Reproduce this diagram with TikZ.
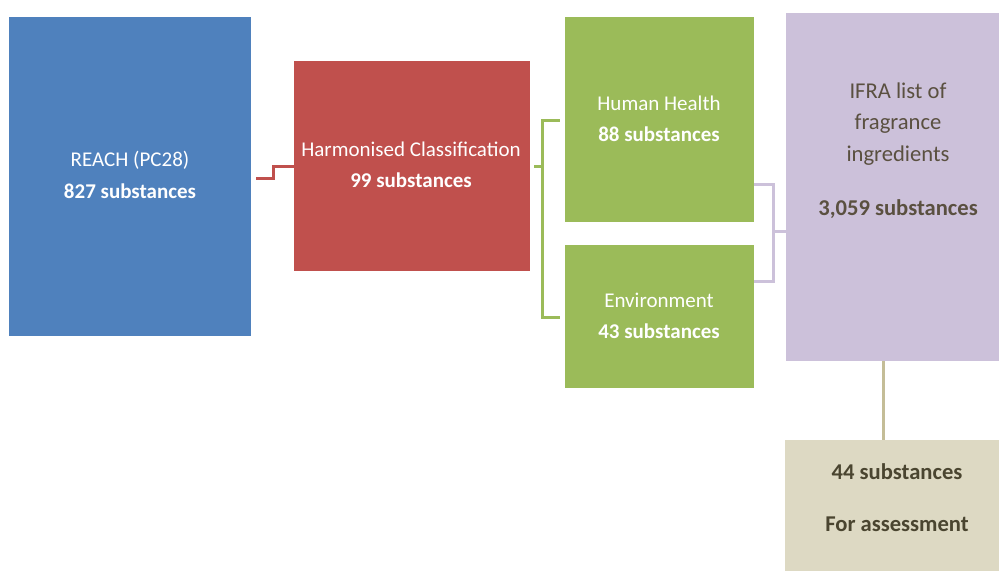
\documentclass[tikz,border=0pt]{standalone}
\usepackage{fontspec}
\setmainfont{Carlito}
\definecolor{cblue}{HTML}{4F81BD}
\definecolor{cred}{HTML}{C0504D}
\definecolor{cgreen}{HTML}{9BBB59}
\definecolor{cpurple}{HTML}{CCC1DA}
\definecolor{ctan}{HTML}{DDD9C3}
\definecolor{ctanline}{HTML}{C4BD97}
\definecolor{ptext}{HTML}{5A5040}
\definecolor{ttext}{HTML}{4A4530}
\begin{document}
\begin{tikzpicture}[x=1pt,y=-1pt,
  box/.style={draw=none,inner sep=0pt},
  lbl/.style={inner sep=0pt,font=\fontsize{21}{24}\selectfont,anchor=center},
  blbl/.style={lbl,font=\fontsize{21}{24}\selectfont\bfseries},
  llbl/.style={inner sep=0pt,font=\fontsize{22.6}{26}\selectfont,anchor=center},
  lblbl/.style={llbl,font=\fontsize{22.6}{26}\selectfont\bfseries},
  conn/.style={line width=3pt}]
\useasboundingbox (0,0) rectangle (999,571);
% boxes
\fill[cblue] (9,17) rectangle (251,336);
\node[box,minimum width=242pt,minimum height=319pt] (reach) at (130,176.5) {};
\fill[cred] (294,61) rectangle (530,271);
\node[box,minimum width=236pt,minimum height=210pt] (harm) at (412,166) {};
\fill[cgreen] (565,17) rectangle (754,222);
\node[box,minimum width=189pt,minimum height=205pt] (hh) at (659.5,119.5) {};
\fill[cgreen] (565,245) rectangle (754,388);
\node[box,minimum width=189pt,minimum height=143pt] (env) at (659.5,316.5) {};
\fill[cpurple] (786,13) rectangle (999,361);
\node[box,minimum width=213pt,minimum height=348pt] (ifra) at (892.5,187) {};
\fill[ctan] (785,440) rectangle (999,571);
\node[box,minimum width=214pt,minimum height=131pt] (asm) at (892,505.5) {};
% texts
\node[lbl,white] (t1) at (130,160) {REACH (PC28)};
\node[blbl,white] (t2) at (130,191) {827 substances};
\node[lbl,white] (t3) at (411,149) {Harmonised Classification};
\node[blbl,white] (t4) at (411,180) {99 substances};
\node[lbl,white] (t5) at (659,103) {Human Health};
\node[blbl,white] (t6) at (659,134) {88 substances};
\node[lbl,white] (t7) at (659,300) {Environment};
\node[blbl,white] (t8) at (659,331) {43 substances};
\node[llbl,ptext] (t9) at (898,91) {IFRA list of};
\node[llbl,ptext] (t10) at (898,124) {fragrance};
\node[llbl,ptext] (t11) at (898,156) {ingredients};
\node[lblbl,ptext] (t12) at (898,209) {3,059 substances};
\node[lblbl,ttext] (t13) at (897,472) {44 substances};
\node[lblbl,ttext] (t14) at (897,524) {For assessment};
% connectors
\draw[conn,cred] (reach.east) ++(5,1.5) -- ++(17,0) -- ++(0,-12) -- (harm.west);
\draw[conn,cgreen] (harm.east) ++(4,0) -- ++(9,0);
\draw[conn,cgreen] (hh.west) ++(-5,0.5) -- ++(-17,0) -- ++(0,197) -- ++(17,0);
\draw[conn,cpurple] (hh.east) ++(0,64.5) -- ++(19,0) -- ++(0,97) -- ++(-19,0);
\draw[conn,cpurple] (773,231) -- (ifra.west |- 0,231);
\draw[conn,ctanline] (ifra.south -| 883,0) -- (asm.north -| 883,0);
\end{tikzpicture}
\end{document}
